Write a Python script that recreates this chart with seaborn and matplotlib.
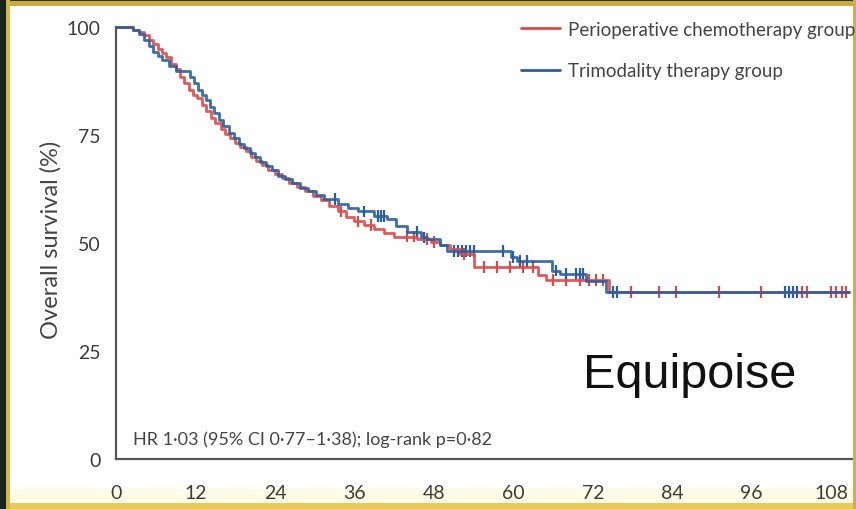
import numpy as np
import pandas as pd
import matplotlib
matplotlib.use("Agg")
import matplotlib.pyplot as plt
from matplotlib.patches import Rectangle
import seaborn as sns

# Kaplan-Meier step points (months, % alive) for each arm
peri_time = [0, 2.5, 3.5, 4.3, 5.0, 5.6, 6.3, 7.0, 7.6, 8.3, 9.0, 9.6, 10.2, 11.0, 11.6,
             12.3, 13.0, 13.6, 14.3, 15.0, 15.8, 16.5, 17.2, 18.0, 18.8, 19.6, 20.4,
             21.2, 22.0, 23.0, 24.0, 25.0, 26.2, 27.4, 28.6, 29.8, 31.0, 32.2, 33.5,
             34.8, 36.0, 37.5, 39.0, 40.5, 42.0, 45.5, 47.5, 49.0, 50.5, 52.0, 54.0,
             63.8, 65.0, 74.5, 110.7]
peri_surv = [100, 99.4, 98.8, 98.2, 97.0, 96.0, 95.0, 94.0, 93.0, 91.5, 90.2, 88.5, 87.0,
             85.5, 84.3, 83.5, 82.0, 80.5, 79.0, 77.8, 76.5, 75.3, 74.3, 73.2, 72.2,
             71.2, 70.0, 69.0, 68.0, 67.0, 66.0, 65.0, 64.0, 63.0, 62.0, 61.0, 60.0,
             58.6, 57.3, 56.0, 55.0, 54.2, 53.3, 52.3, 51.5, 51.0, 50.3, 49.5, 48.5,
             47.5, 44.4, 42.5, 41.5, 38.7, 38.7]

tri_time = [0, 2.5, 3.5, 4.3, 5.0, 5.6, 6.3, 7.0, 8.0, 9.0, 11.2, 11.8, 12.4, 13.0, 13.6,
            14.2, 14.8, 15.5, 16.2, 17.0, 17.8, 18.6, 19.4, 20.2, 21.0, 21.8, 22.6,
            23.5, 24.5, 25.5, 26.6, 27.8, 29.0, 30.2, 31.4, 33.5, 35.0, 36.5, 39.0,
            41.0, 42.3, 44.0, 46.0, 47.0, 49.0, 50.0, 59.7, 60.5, 65.8, 67.0, 71.0,
            74.0, 110.7]
tri_surv = [100, 99.4, 98.4, 97.0, 95.5, 94.2, 93.3, 92.3, 91.0, 89.8, 88.5, 87.0, 85.5,
            84.2, 83.0, 81.5, 80.0, 78.5, 77.0, 75.5, 74.3, 73.0, 72.0, 70.8, 69.8,
            68.8, 67.8, 66.8, 65.6, 64.8, 63.8, 62.8, 62.0, 61.2, 60.2, 59.0, 58.0,
            57.3, 56.3, 55.5, 54.0, 52.5, 51.3, 51.0, 49.5, 48.2, 46.7, 45.9, 43.6,
            42.8, 41.3, 38.7, 38.7]

# Censoring times (months)
peri_cens = [34.0, 36.5, 38.5, 44.0, 45.0, 47.0, 48.0, 52.5, 55.5, 57.5, 59.5, 61.5,
             63.0, 66.0, 68.0, 70.0, 71.5, 72.5, 73.5, 77.8, 82.0, 84.6, 91.0, 97.4,
             103.6, 104.4, 108.0, 108.8, 109.6, 110.2]
tri_cens = [33.0, 37.5, 39.5, 40.0, 40.5, 45.5, 46.5, 51.0, 51.6, 52.2, 52.8, 53.4, 54.0,
            58.5, 60.0, 61.0, 62.0, 66.5, 68.0, 69.5, 70.0, 70.5, 75.0, 75.6, 101.0,
            101.6, 102.2, 102.8]

groups = ["Perioperative chemotherapy group", "Trimodality therapy group"]
x_ticks = [0, 12, 24, 36, 48, 60, 72, 84, 96, 108]
y_ticks = [0, 25, 50, 75, 100]

red = "#dd4a4a"
blue = "#2a5f9e"


def surv_at(times, survs, t):
    idx = np.searchsorted(times, t, side="right") - 1
    return survs[idx]


curves = pd.concat([
    pd.DataFrame({"month": peri_time, "surv": peri_surv, "group": groups[0]}),
    pd.DataFrame({"month": tri_time, "surv": tri_surv, "group": groups[1]}),
])
cens = pd.concat([
    pd.DataFrame({"month": peri_cens,
                  "surv": [surv_at(peri_time, peri_surv, t) for t in peri_cens],
                  "group": groups[0]}),
    pd.DataFrame({"month": tri_cens,
                  "surv": [surv_at(tri_time, tri_surv, t) for t in tri_cens],
                  "group": groups[1]}),
])

sns.set_style("white")
plt.rcParams["font.family"] = ["Lato", "DejaVu Sans"]

fig = plt.figure(figsize=(8.56, 5.10), dpi=100)
fig.patch.set_facecolor("white")
ax = fig.add_axes([116 / 856, 50 / 510, (853 - 116) / 856, (510 - 50 - 19.4) / 510])

palette = {groups[0]: red, groups[1]: blue}
sns.lineplot(data=curves, x="month", y="surv", hue="group", palette=palette,
             drawstyle="steps-post", estimator=None, linewidth=2.0, alpha=0.9,
             ax=ax, legend=False)
sns.scatterplot(data=cens, x="month", y="surv", hue="group", palette=palette,
                marker="|", s=70, linewidth=1.6, ax=ax, legend=False)

ax.set_xlim(0, 111.3)
ax.set_ylim(0, 102)
ax.set_xticks(x_ticks)
ax.set_yticks(y_ticks)
ax.set_xticklabels([str(v) for v in x_ticks])
ax.set_yticklabels([str(v) for v in y_ticks])
for s in ["top", "right"]:
    ax.spines[s].set_visible(False)
for s in ["left", "bottom"]:
    ax.spines[s].set_color("#555555")
    ax.spines[s].set_linewidth(1.6)
ax.spines["left"].set_bounds(0, 100)
ax.tick_params(axis="both", direction="out", colors="#555555", width=1.4,
               labelcolor="#3c3c3c", labelsize=14)
ax.tick_params(axis="x", length=11, pad=7)
ax.tick_params(axis="y", length=8, pad=3)
ax.set_xlabel("")
ax.set_ylabel("Overall survival (%)", fontsize=17, color="#444444", labelpad=4)

# legend entries drawn as short coloured strokes with labels
handles = [plt.Line2D([], [], color=red, lw=2), plt.Line2D([], [], color=blue, lw=2)]
fig.legend(handles, groups, loc="upper left", bbox_to_anchor=(504 / 856, 1 - 5 / 510),
           frameon=False, fontsize=13.5, handlelength=2.1, handletextpad=0.4,
           labelspacing=1.3, labelcolor="#444444")

ax.text(2.6, 4.6, "HR 1\u00b703 (95% CI 0\u00b777\u20131\u00b738); log-rank p=0\u00b782",
        fontsize=13, color="#444444", va="center")
ax.text(70.5, 16.6, "Equipoise", fontsize=35, color="#111111",
        family=["Liberation Sans", "DejaVu Sans"], va="baseline")

# frame around the slide
fig.add_artist(Rectangle((0, 1 - 505 / 510), 1, 15 / 510, transform=fig.transFigure,
                         facecolor="#fffbe6", edgecolor="none", zorder=-1))
fig.add_artist(Rectangle((0, 0), 1, 6 / 510, transform=fig.transFigure,
                         facecolor="#e8c95a", edgecolor="none"))
fig.add_artist(Rectangle((0, 1 - 7 / 510), 1, 7 / 510, transform=fig.transFigure,
                         facecolor="#c9ac3c", edgecolor="none"))
fig.add_artist(Rectangle((0, 1 - 2 / 510), 1, 2 / 510, transform=fig.transFigure,
                         facecolor="#2a3526", edgecolor="none"))
fig.add_artist(Rectangle((0, 0), 10 / 856, 1, transform=fig.transFigure,
                         facecolor="#d9b84a", edgecolor="none"))
fig.add_artist(Rectangle((0, 0), 6 / 856, 1, transform=fig.transFigure,
                         facecolor="#16261c", edgecolor="none"))
fig.add_artist(Rectangle((1 - 3 / 856, 0), 3 / 856, 1, transform=fig.transFigure,
                         facecolor="#c9b050", edgecolor="none"))

fig.savefig("out.png", dpi=100)
